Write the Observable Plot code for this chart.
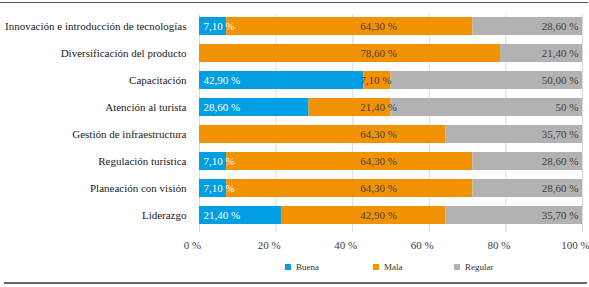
<!DOCTYPE html>
<html><head><meta charset="utf-8">
<script src="https://cdn.jsdelivr.net/npm/d3@7"></script>
<script src="https://cdn.jsdelivr.net/npm/@observablehq/plot@0.6"></script>
<style>
body{margin:0;background:#fff;width:589px;height:287px;position:relative;overflow:hidden;font-family:"Liberation Serif",serif;}
#rtop{position:absolute;left:0;top:2px;width:588px;height:0;border-top:1.5px solid #5a5a5a;}
#rbot{position:absolute;left:4px;top:282px;width:583px;height:0;border-top:2px solid #666;}
#chart{position:absolute;left:0;top:0;}
#legend{position:absolute;top:260px;left:0;width:589px;height:14px;font-size:9px;color:#333;}
.item{position:absolute;top:0;line-height:14px;white-space:nowrap;}
.sw{position:absolute;width:6px;height:6px;top:4px;left:0;}
.lb{position:absolute;left:11px;top:0;}
</style></head><body>
<div id="chart"></div>
<div id="rtop"></div>
<div id="legend"></div>
<div id="rbot"></div>
<script>
const categories = [
  "Innovación e introducción de tecnologías",
  "Diversificación del producto",
  "Capacitación",
  "Atención al turista",
  "Gestión de infraestructura",
  "Regulación turística",
  "Planeación con visión",
  "Liderazgo"
];
const series = ["Buena", "Mala", "Regular"];
const buena   = [7.1, 0, 42.9, 28.6, 0, 7.1, 7.1, 21.4];
const mala    = [64.3, 78.6, 7.1, 21.4, 64.3, 64.3, 64.3, 42.9];
const regular = [28.6, 21.4, 50.0, 50, 35.7, 28.6, 28.6, 35.7];
// number of decimals shown in each Regular label (source shows "50 %" once)
const regularDecimals = [2, 2, 2, 0, 2, 2, 2, 2];
const xTicks = [0, 20, 40, 60, 80, 100];
const colors = ["#009fe3", "#f39200", "#b2b2b2"];
const malaLabelAnchor = 42; // source places all "Mala" labels at a common x

const fmt = (v, dec = 2) => v.toFixed(dec).replace(".", ",") + " %";
const valuesBySeries = {Buena: buena, Mala: mala, Regular: regular};
const rows = [];
categories.forEach((c, i) => {
  series.forEach((s, j) => {
    const v = valuesBySeries[s][i];
    rows.push({cat: c, serie: s, order: j, value: v,
      label: fmt(v, s === "Regular" ? regularDecimals[i] : 2)});
  });
});

const serif = '"Liberation Serif", serif';
const txtColor = "#404040";
const chart = Plot.plot({
  width: 589,
  height: 258,
  marginLeft: 199,
  marginRight: 7,
  marginTop: 14,
  marginBottom: 26,
  style: {fontFamily: serif, background: "transparent", fontSize: "11px"},
  x: {domain: [0, 100]},
  y: {domain: categories, range: [12.5, 229.1], paddingInner: 0.335, paddingOuter: 0.17},
  color: {domain: series, range: colors},
  marks: [
    Plot.gridX(xTicks, {stroke: "#d9d9d9", strokeOpacity: 1, strokeWidth: 1}),
    Plot.barX(rows, Plot.stackX({x: "value", y: "cat", fill: "serie", order: series})),
    Plot.text(rows.filter(d => d.serie === "Buena" && d.value > 0),
      {y: "cat", text: "label", frameAnchor: "left", textAnchor: "start", dx: 4, fill: "white", fontSize: 11, fontFamily: serif}),
    Plot.text(rows.filter(d => d.serie === "Mala" && d.value > 0),
      {y: "cat", x: () => malaLabelAnchor, text: "label", textAnchor: "start", fill: txtColor, fontSize: 11, fontFamily: serif}),
    Plot.text(rows.filter(d => d.serie === "Regular" && d.value > 0),
      {y: "cat", text: "label", frameAnchor: "right", textAnchor: "end", dx: -4, fill: txtColor, fontSize: 11, fontFamily: serif}),
    Plot.axisX(xTicks, {tickSize: 0, tickPadding: 9, dx: -7, tickFormat: d => d + " %", label: null, fill: txtColor, fontSize: 11, fontFamily: serif}),
    Plot.axisY({tickSize: 0, tickPadding: 13, label: null, fill: "#1a1a1a", fontSize: 11, fontFamily: serif})
  ]
});
document.getElementById("chart").appendChild(chart);

const legend = document.getElementById("legend");
const legendX = [285, 373, 454];
series.forEach((s, j) => {
  const it = document.createElement("div");
  it.className = "item";
  it.style.left = legendX[j] + "px";
  it.innerHTML = `<span class="sw" style="background:${colors[j]}"></span><span class="lb">${s}</span>`;
  legend.appendChild(it);
});
</script>
</body></html>
